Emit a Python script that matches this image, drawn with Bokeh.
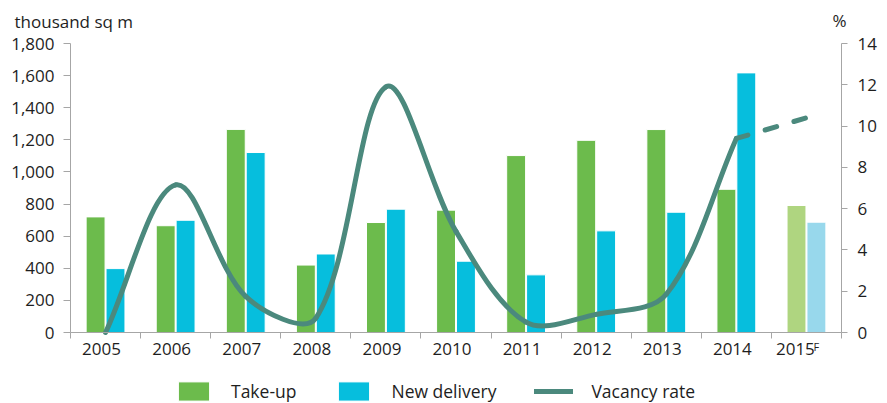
import numpy as np
from bokeh.plotting import figure
from bokeh.models import (Range1d, LinearAxis, FixedTicker, NumeralTickFormatter,
                          Label, Legend, LegendItem, ColumnDataSource)
from bokeh.embed import file_html
from bokeh.resources import INLINE

# ---------------- data ----------------
years = ["2005", "2006", "2007", "2008", "2009", "2010", "2011", "2012", "2013", "2014", "2015"]
take_up = [720, 665, 1265, 420, 685, 762, 1102, 1197, 1264, 892, 791]
new_delivery = [398, 699, 1121, 489, 768, 444, 359, 633, 749, 1617, 687]
vacancy_years = ["2005", "2006", "2007", "2008", "2009", "2010", "2011", "2012", "2013", "2014"]
vacancy_rate = [0.0, 7.15, 1.75, 0.7, 11.9, 4.9, 0.5, 0.88, 1.85, 9.4]
forecast_years = ["2014", "2015"]
vacancy_forecast = [9.4, 10.4]
left_ticks = [0, 200, 400, 600, 800, 1000, 1200, 1400, 1600, 1800]
right_ticks = [0, 2, 4, 6, 8, 10, 12, 14]
forecast_year = "2015"
left_max, right_max = 1800, 14

# ---------------- style ----------------
FONT = "Open Sans"
TEXT = "#1E1E1E"
AXIS = "#A6A6A6"
GREEN = "#6CBB4C"
BLUE = "#06BEDD"
GREEN_F = "#AFD580"
BLUE_F = "#98D8EC"
LINE = "#4B897D"

W, H = 887, 403
# plot area (pixels on the canvas)
PL, PR, PT, PB = 70, 841, 43, 332
n = len(years)
sx = (PR - PL) / n                  # px per category
ppx = left_max / (PB - PT)          # left-axis units per px
ppx_r = right_max / (PB - PT)       # right-axis units per px
sy = 1.0 / ppx_r                    # px per percent

pos = {y: i + 0.5 for i, y in enumerate(years)}

p = figure(width=W, height=H,
           x_range=Range1d(-PL / sx, (W - PL) / sx),
           y_range=Range1d(-(H - PB) * ppx, PB * ppx),
           output_backend="svg", toolbar_location=None, title=None,
           x_axis_location=None, y_axis_location=None,
           min_border=0, min_border_left=0, min_border_right=0,
           min_border_top=0, min_border_bottom=0)
p.extra_y_ranges = {"pct": Range1d(-(H - PB) * ppx_r, PB * ppx_r)}
p.grid.visible = False
p.outline_line_color = None
p.background_fill_color = "white"
p.border_fill_color = "white"

# ---------------- bars ----------------
bar_w = 0.27
off = 0.142
is_f = [y == forecast_year for y in years]
src = ColumnDataSource(dict(
    xt=[pos[y] - off for y in years],
    xn=[pos[y] + off for y in years],
    take=take_up, new=new_delivery,
    ct=[GREEN_F if f else GREEN for f in is_f],
    cn=[BLUE_F if f else BLUE for f in is_f],
))
r_take = p.vbar(x="xt", top="take", bottom=0, width=bar_w, source=src, fill_color="ct",
                line_color="white", line_width=1)
r_new = p.vbar(x="xn", top="new", bottom=0, width=bar_w, source=src, fill_color="cn",
               line_color="white", line_width=1)

# ---------------- smoothed vacancy line (Excel-style bezier) ----------------
P = [(pos[y], v) for y, v in zip(vacancy_years, vacancy_rate)]

def dist(a, b):
    return float(np.hypot((b[0] - a[0]) * sx, (b[1] - a[1]) * sy))

x0s, y0s, x1s, y1s, cx0, cy0, cx1, cy1 = ([] for _ in range(8))
m = len(P)
for i in range(m - 1):
    pa = P[i - 1] if i > 0 else P[i]
    p1 = P[i]
    p2 = P[i + 1]
    pb = P[i + 2] if i + 2 < m else P[i + 1]
    d01, d12, d23 = dist(pa, p1), dist(p1, p2), dist(p2, pb)
    f1 = d12 / (3 * (d01 + d12))
    f2 = d12 / (3 * (d12 + d23))
    x0s.append(p1[0]); y0s.append(p1[1])
    x1s.append(p2[0]); y1s.append(p2[1])
    cx0.append(p1[0] + (p2[0] - pa[0]) * f1); cy0.append(p1[1] + (p2[1] - pa[1]) * f1)
    cx1.append(p2[0] - (pb[0] - p1[0]) * f2); cy1.append(p2[1] - (pb[1] - p1[1]) * f2)

r_vac = p.bezier(x0=x0s, y0=y0s, x1=x1s, y1=y1s, cx0=cx0, cy0=cy0, cx1=cx1, cy1=cy1,
                 line_color=LINE, line_width=5, line_cap="round", y_range_name="pct")
p.line(x=[pos[y] for y in forecast_years], y=vacancy_forecast, line_color=LINE,
       line_width=5, line_cap="round", line_dash="12 18", y_range_name="pct")

# ---------------- axes ----------------
ya = LinearAxis(ticker=FixedTicker(ticks=left_ticks), fixed_location=0, bounds=(0, left_max))
ya.formatter = NumeralTickFormatter(format="0,0")
ya.axis_line_color = AXIS
ya.major_tick_line_color = AXIS
ya.major_tick_out = 7
ya.major_tick_in = 0
ya.minor_tick_line_color = None
ya.major_label_standoff = 9
ya.major_label_text_font = FONT
ya.major_label_text_font_size = "17px"
ya.major_label_text_color = TEXT
p.add_layout(ya, "left")

ra = LinearAxis(y_range_name="pct", ticker=FixedTicker(ticks=right_ticks),
                fixed_location=n, bounds=(0, right_max))
ra.axis_line_color = AXIS
ra.major_tick_line_color = AXIS
ra.major_tick_out = 6
ra.major_tick_in = 0
ra.minor_tick_line_color = None
ra.major_label_standoff = 10
ra.major_label_text_font = FONT
ra.major_label_text_font_size = "17px"
ra.major_label_text_color = TEXT
p.add_layout(ra, "right")

shift = [-0.057] * (n - 1) + [-0.158]
label_pos = [pos[y] + s for y, s in zip(years, shift)]
xa = LinearAxis(ticker=FixedTicker(ticks=label_pos, minor_ticks=list(range(0, n + 1))),
                fixed_location=0, bounds=(0, n))
xa.major_label_overrides = {lp: y for lp, y in zip(label_pos, years)}
xa.axis_line_color = AXIS
xa.major_tick_out = 0
xa.major_tick_in = 0
xa.major_tick_line_color = None
xa.minor_tick_out = 6
xa.minor_tick_in = 0
xa.minor_tick_line_color = AXIS
xa.major_label_standoff = 4
xa.major_label_text_font = FONT
xa.major_label_text_font_size = "17px"
xa.major_label_text_color = TEXT
p.add_layout(xa, "below")

# ---------------- texts ----------------
p.add_layout(Label(x=(14 - PL) / sx, y=(PB - 20.5) * ppx, text="thousand  sq m", text_font=FONT,
                   text_font_size="17px", text_color=TEXT, text_align="left",
                   text_baseline="alphabetic"))
p.add_layout(Label(x=(832 - PL) / sx, y=(PB - 19.5) * ppx, text="%", text_font=FONT,
                   text_font_size="17px", text_color=TEXT, text_align="left",
                   text_baseline="alphabetic"))
p.add_layout(Label(x=(813 - PL) / sx, y=(PB - 346) * ppx, text="F", text_font=FONT,
                   text_font_size="11px", text_color=TEXT, text_align="left",
                   text_baseline="alphabetic"))

# ---------------- legend ----------------
legend = Legend(items=[
    LegendItem(label="Take-up", renderers=[r_take], index=0),
    LegendItem(label="New delivery", renderers=[r_new], index=0),
    LegendItem(label="Vacancy rate", renderers=[r_vac], index=0),
], location=(174, 0), orientation="horizontal", glyph_width=39, glyph_height=24,
    label_standoff=18, spacing=38, padding=0, margin=0, border_line_color=None,
    background_fill_alpha=0, label_text_font=FONT, label_text_font_size="17.5px",
    label_text_color=TEXT)
p.add_layout(legend, "center")

open("out.html", "w").write(file_html(p, INLINE))
